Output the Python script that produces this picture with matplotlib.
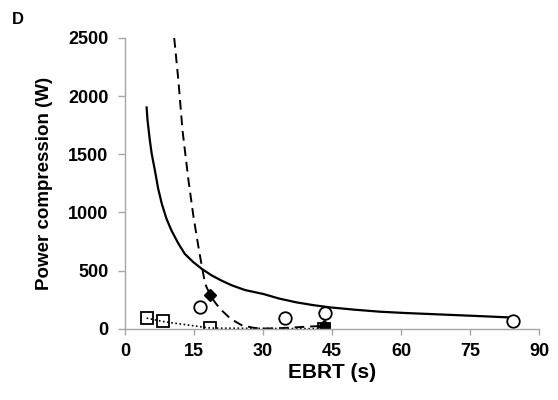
import matplotlib
matplotlib.use("Agg")
import matplotlib.pyplot as plt

# open circles
circ_x = [16.3, 34.8, 43.5, 84.4]
circ_y = [184, 95, 135, 63]
# filled diamonds
diam_x = [18.5, 43.3]
diam_y = [287, 20]
# open squares (dotted series)
sq_x = [4.7, 8.2, 18.5, 43.3]
sq_y = [92, 63, 6, 0]

# solid trend line
solid_x = [4.7, 4.9, 5.4, 5.8, 6.5, 7.2, 8.0, 9.0, 10.1, 11.6, 13.0, 14.8, 16.7, 18.8,
           21.0, 23.2, 26.1, 30.1, 33.5, 37.3, 41.0, 44.6, 50.0, 55.4, 60.8, 66.3, 71.7, 77.2, 84.0]
solid_y = [1903, 1793, 1621, 1506, 1362, 1207, 1075, 948, 845, 733, 644, 575, 515, 460,
           414, 374, 333, 299, 260, 227, 203, 184, 164, 147, 136, 127, 118, 109, 97]
# dashed trend line
dash_x = [10.7, 11.6, 12.5, 13.8, 14.9, 16.1, 17.4, 18.7, 20.0, 21.0, 23.0, 25.4, 28.0, 30.0, 33.0, 36.0, 39.0, 43.0]
dash_y = [2500, 2138, 1707, 1276, 960, 672, 388, 274, 205, 159, 85, 30, 8, 2, 4, 10, 17, 25]

plt.rcParams['font.family'] = ['Liberation Sans', 'DejaVu Sans']
fig = plt.figure(figsize=(5.58, 4.0), dpi=100)
ax = fig.add_axes([0.224, 0.178, 0.742, 0.727])

ax.plot(solid_x, solid_y, color='black', lw=1.6, solid_joinstyle='round')
ax.plot(dash_x, dash_y, color='black', lw=1.4, ls=(0, (5, 3)))
ax.plot(sq_x, sq_y, color='black', lw=1.2, ls=(0, (1, 1.5)))
ax.plot(sq_x, sq_y, ls='none', marker='s', ms=8, mfc='none', mec='black', mew=1.3)
ax.plot(circ_x, circ_y, ls='none', marker='o', ms=9, mfc='white', mec='black', mew=1.3)
ax.plot(diam_x, diam_y, ls='none', marker='D', ms=6.5, mfc='black', mec='black')

ax.set_xlim(0, 90)
ax.set_ylim(0, 2500)
ax.set_xticks(range(0, 91, 15))
ax.set_yticks(range(0, 2501, 500))
for s in ['top', 'right']:
    ax.spines[s].set_visible(False)
for s in ['left', 'bottom']:
    ax.spines[s].set_color('#a6a6a6')
    ax.spines[s].set_linewidth(1.0)
ax.tick_params(axis='both', colors='#a6a6a6', length=5, width=1.0, labelsize=13,
               labelcolor='black')
ax.tick_params(axis='x', length=4, pad=6.5)
ax.tick_params(axis='y', length=5, pad=7)
for lab in ax.get_xticklabels() + ax.get_yticklabels():
    lab.set_fontweight('bold')
ax.set_xlabel('EBRT (s)', fontsize=15, fontweight='bold', labelpad=2)
ax.set_ylabel('Power compression (W)', fontsize=13.5, fontweight='bold', labelpad=11)
fig.text(0.0215, 0.9525, 'D', fontsize=12, fontweight='bold', va='center')

fig.savefig('out.png', dpi=100)
